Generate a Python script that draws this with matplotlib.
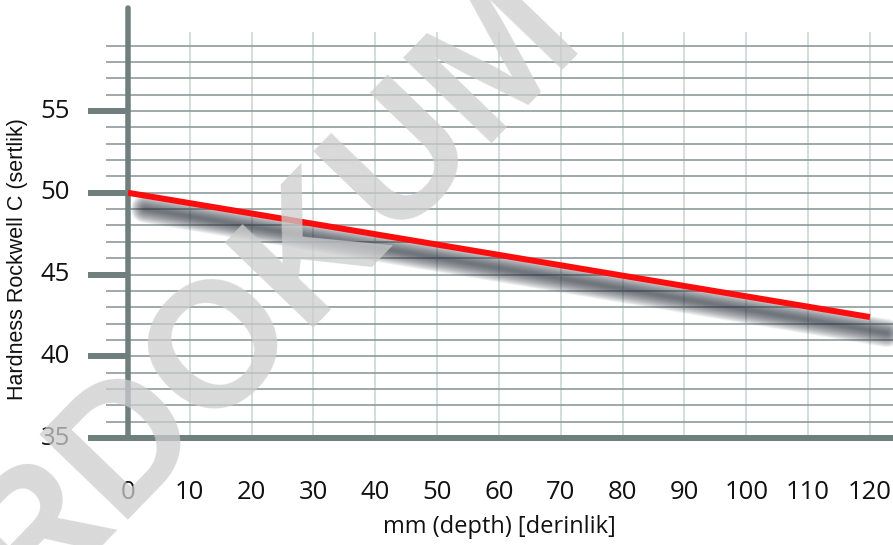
import numpy as np
import matplotlib
matplotlib.use("Agg")
import matplotlib.pyplot as plt
from matplotlib import transforms

# data
depth_mm = [0, 120]
hardness_hrc = [50.0, 42.4]

x_ticks = list(range(0, 130, 10))
y_ticks = [35, 40, 45, 50, 55]
y_minor = list(range(36, 60))

x_label = "mm (depth) [derinlik]"
y_label = "Hardness Rockwell C (sertlik)"
watermark = "RDOKUM"

axis_col = "#6f7f7e"
hgrid_col = "#8c9797"
vgrid_col = "#cfdad9"
red = "#fb0d0d"

fig = plt.figure(figsize=(8.93, 5.45), dpi=100)
ax = fig.add_axes([0, 0, 1, 1])
ax.set_xlim(-20.70, 123.72)
ax.set_ylim(28.46, 61.79)
ax.axis("off")

px = 0.72  # points per pixel at 100 dpi

# vertical grid
ax.vlines(x_ticks[1:], 35, 59.85, color=vgrid_col, lw=1.8 * px, zorder=1)
# horizontal grid
ax.hlines(y_minor, -3.56, 123.72, color=hgrid_col, lw=1.6 * px, zorder=2)
# major ticks on y axis
ax.hlines(y_ticks[1:], -6.47, 0, color=axis_col, lw=6 * px, zorder=3)
# axes lines
ax.plot([0, 0], [35, 61.3], color=axis_col, lw=5.5 * px,
        solid_capstyle="round", zorder=3)
ax.plot([-6.47, 123.72], [35, 35], color=axis_col, lw=6 * px,
        solid_capstyle="butt", zorder=3)

# blurred drop shadow of the curve
shadow_tr = transforms.offset_copy(ax.transData, fig=fig, x=17, y=-16, units="dots")
for w in np.linspace(28, 3, 13):
    ax.plot(depth_mm, hardness_hrc, color="#2c343e", lw=w * px, alpha=0.08,
            solid_capstyle="round", transform=shadow_tr, zorder=4)

ax.plot(depth_mm, hardness_hrc, color=red, lw=6 * px,
        solid_capstyle="butt", zorder=5)

# tick labels
tick_font = dict(family="Open Sans", fontsize=18.5, color="#111111")
for v in y_ticks:
    ax.text(-9.38, v, str(v), ha="right", va="center", **tick_font)
for v in x_ticks:
    ax.text(v, 31.70, str(v), ha="center", va="center", **tick_font)

ax.text(60, 29.56, x_label, ha="center", va="center",
        family="Open Sans", fontsize=17, color="#111111")
ax.text(-17.8, 45.95, y_label, ha="center", va="center", rotation=90,
        family="Liberation Sans", fontsize=15.5, color="#111111")

# watermark
fig.text(0.305, 0.464, watermark, ha="center", va="center", rotation=46,
         fontsize=128, fontweight="bold", family="Liberation Sans",
         color="#cdcdcd", alpha=0.75, zorder=10)

fig.savefig("out.png", dpi=100)
